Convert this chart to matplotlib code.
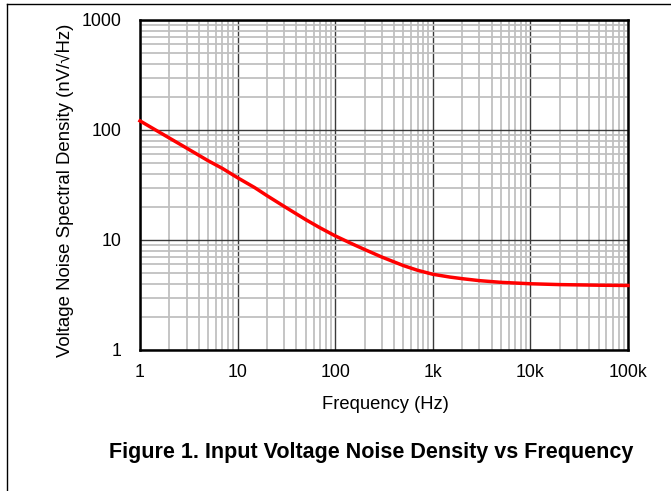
import numpy as np
import matplotlib
matplotlib.use('Agg')
from matplotlib import pyplot as plt
from matplotlib.ticker import FixedLocator, LogLocator, NullFormatter
from matplotlib.lines import Line2D

plt.rcParams['font.family'] = ['Liberation Sans', 'DejaVu Sans']

# values
freq = [1, 2, 3, 5, 7, 10, 15, 20, 30, 50, 70, 100, 150, 200, 300, 500, 700,
        1000, 1500, 2000, 3000, 5000, 10000, 20000, 50000, 100000]
noise = [121, 84.5, 68.5, 52.5, 44.7, 36.8, 29.9, 25.3, 20.2, 15.3, 12.9, 10.9,
         9.2, 8.2, 7.0, 5.85, 5.3, 4.88, 4.6, 4.45, 4.27, 4.12, 4.0, 3.93, 3.88, 3.86]

x_ticks = [1, 10, 100, 1000, 10000, 100000]
x_tick_labels = ['1', '10', '100', '1k', '10k', '100k']
y_ticks = [1, 10, 100, 1000]
y_tick_labels = ['1', '10', '100', '1000']

fig = plt.figure(figsize=(6.71, 4.91), dpi=100)
ax = fig.add_axes([0.2086, 0.2872, 0.7273, 0.6721])

ax.set_xscale('log')
ax.set_yscale('log')
ax.set_xlim(1, 100000)
ax.set_ylim(1, 1000)

ax.xaxis.set_major_locator(FixedLocator(x_ticks))
ax.set_xticklabels(x_tick_labels)
ax.yaxis.set_major_locator(FixedLocator(y_ticks))
ax.set_yticklabels(y_tick_labels)
ax.xaxis.set_minor_locator(LogLocator(base=10, subs=np.arange(2, 10)))
ax.yaxis.set_minor_locator(LogLocator(base=10, subs=np.arange(2, 10)))
ax.xaxis.set_minor_formatter(NullFormatter())
ax.yaxis.set_minor_formatter(NullFormatter())

ax.grid(True, which='minor', color='#c0c0c0', linewidth=1.3)
ax.grid(True, which='major', color='#3a3a3a', linewidth=1.0)
ax.set_axisbelow(True)

ax.tick_params(which='both', length=0)
ax.tick_params(axis='x', pad=10, labelsize=12.8)
ax.tick_params(axis='y', pad=13, labelsize=12.8)

for s in ax.spines.values():
    s.set_linewidth(1.8)
    s.set_color('black')

ax.plot(freq, noise, color='#ff0000', linewidth=2.5, clip_on=False, zorder=5,
        solid_joinstyle='round')

fig.text(0.574, 0.177, 'Frequency (Hz)', ha='center', va='center', fontsize=13.2)
fig.text(0.097, 0.613, 'Voltage Noise Spectral Density (nV/\u221aHz)',
         ha='center', va='center', rotation=90, fontsize=13.4)
fig.text(0.553, 0.079, 'Figure 1. Input Voltage Noise Density vs Frequency',
         ha='center', va='center', fontsize=15.5, fontweight='bold')

# page frame lines (top and left)
fig.add_artist(Line2D([0.011, 1.0], [0.991, 0.991], color='black', linewidth=1.0))
fig.add_artist(Line2D([0.011, 0.011], [0.0, 0.991], color='black', linewidth=1.0))

fig.savefig('out.png', dpi=100)
